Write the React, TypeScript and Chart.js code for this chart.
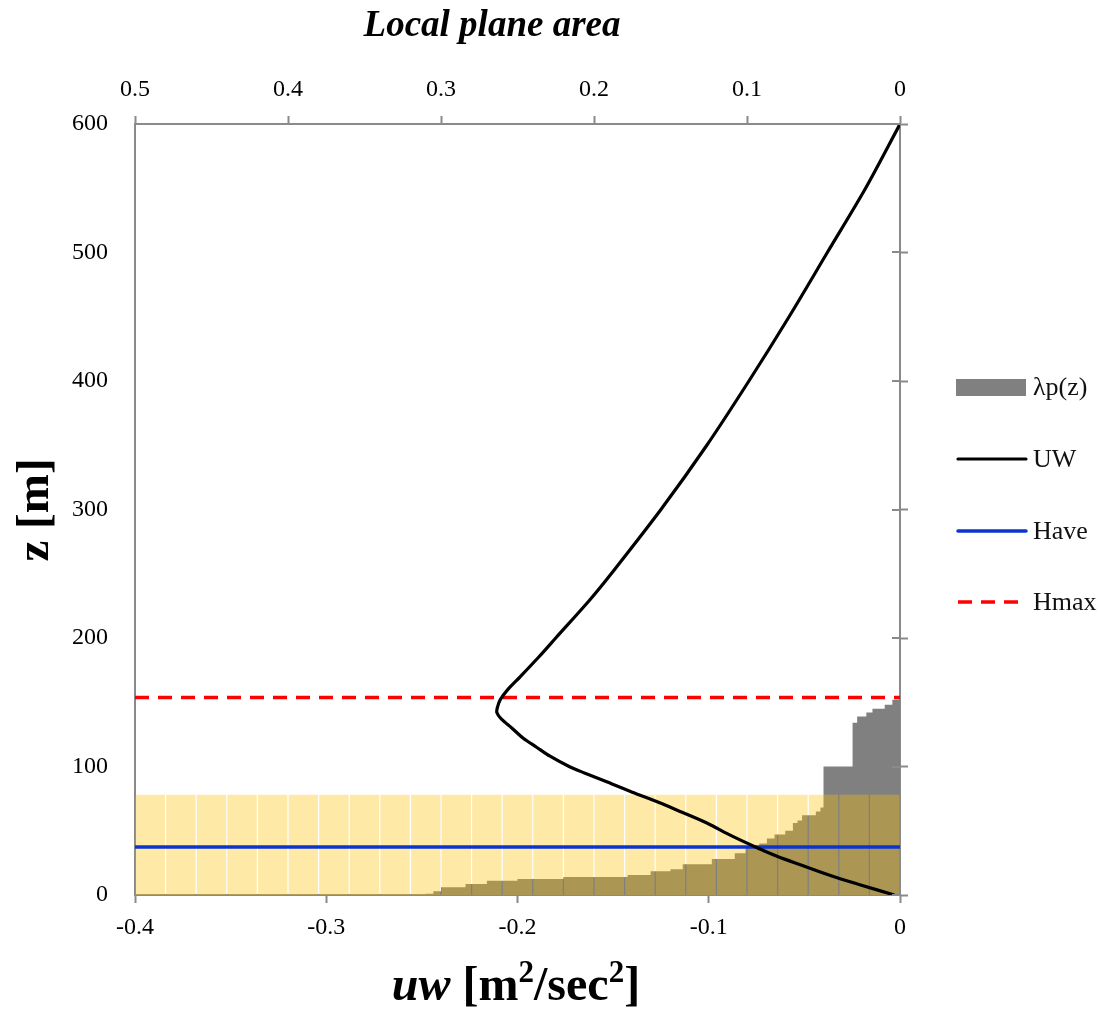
import React, { useEffect, useRef } from 'react';
import { Chart, registerables } from 'chart.js';

Chart.register(...registerables);

// Reynolds stress profile uw(z)
const uwHeights = [0, 8, 15, 23, 30, 37, 46, 56, 65, 72, 80, 88, 95, 100, 108, 115, 122, 130, 137, 142, 146, 152, 160, 170, 185, 200, 230, 250, 300, 350, 400, 450, 500, 550, 600];
const uwValues = [-0.003, -0.021, -0.036, -0.051, -0.064, -0.075, -0.088, -0.101, -0.115, -0.126, -0.14, -0.153, -0.165, -0.173, -0.183, -0.19, -0.197, -0.203, -0.2085, -0.2108, -0.2105, -0.209, -0.205, -0.1985, -0.189, -0.18, -0.162, -0.151, -0.125, -0.101, -0.079, -0.058, -0.038, -0.018, 0];

// Local plane area ratio λp(z): lower edge of each height band and its value
const lpHeights = [0, 1, 3, 6, 8.5, 11, 12.5, 14, 15.5, 18.5, 20, 24, 28, 32.5, 37, 40, 44, 47, 50, 56, 58, 62, 65, 68, 100, 134, 139, 142, 145, 148];
const lpValues = [0.31, 0.305, 0.3, 0.284, 0.27, 0.25, 0.22, 0.178, 0.163, 0.15, 0.142, 0.123, 0.108, 0.101, 0.092, 0.087, 0.082, 0.075, 0.07, 0.067, 0.064, 0.055, 0.052, 0.05, 0.031, 0.028, 0.022, 0.018, 0.01, 0.005];
const lpTop = 152;

// Reference heights
const haveHeight = 37.4;
const hmaxHeight = 153.6;

// Shaded canopy layer, drawn as a row of columns
const bandSlots = ['1', '2', '3', '4', '5', '6', '7', '8', '9', '10', '11', '12', '13', '14', '15', '16', '17', '18', '19', '20', '21', '22', '23', '24', '25'];
const bandValues = [78, 78, 78, 78, 78, 78, 78, 78, 78, 78, 78, 78, 78, 78, 78, 78, 78, 78, 78, 78, 78, 78, 78, 78, 78];

// Axis ticks
const uwTicks = [-0.4, -0.3, -0.2, -0.1, 0];
const areaTicks = [0.5, 0.4, 0.3, 0.2, 0.1, 0];
const zTicks = [0, 100, 200, 300, 400, 500, 600];

const FONT = '"Liberation Serif", "Times New Roman", Times, serif';
const AXIS_COLOR = '#8a8a8a';
const GREY = '#808080';
const BAND = 'rgba(255, 192, 0, 0.35)';
const BLUE = '#0a34cf';
const RED = '#ff0000';

const fmt = (v: number) => {
  const r = Math.round(v * 10) / 10;
  return r === 0 ? '0' : String(r);
};

const setTicks = (values: number[]) => (scale: any) => {
  scale.ticks = values.map((v) => ({ value: v }));
};

const buildPlaneOutline = () => {
  const pts: { x: number; y: number }[] = [{ x: 0, y: lpHeights[0] }];
  for (let i = 0; i < lpValues.length; i++) {
    const z0 = lpHeights[i];
    const z1 = i + 1 < lpHeights.length ? lpHeights[i + 1] : lpTop;
    pts.push({ x: lpValues[i], y: z0 }, { x: lpValues[i], y: z1 });
  }
  pts.push({ x: 0, y: lpTop });
  return pts;
};

type Part = { text: string; font: string; rise?: number };

const drawRich = (ctx: CanvasRenderingContext2D, parts: Part[], cx: number, baseline: number) => {
  let total = 0;
  parts.forEach((p) => {
    ctx.font = p.font;
    total += ctx.measureText(p.text).width;
  });
  let x = cx - total / 2;
  ctx.textAlign = 'left';
  ctx.textBaseline = 'alphabetic';
  parts.forEach((p) => {
    ctx.font = p.font;
    ctx.fillText(p.text, x, baseline + (p.rise || 0));
    x += ctx.measureText(p.text).width;
  });
};

const decorPlugin = {
  id: 'decor',
  afterDraw(chart: any) {
    const { ctx, chartArea, scales } = chart;
    ctx.save();

    // inner half of the right-axis tick marks
    const y2 = scales.y2;
    ctx.strokeStyle = AXIS_COLOR;
    ctx.lineWidth = 2;
    y2.ticks.forEach((t: any) => {
      const py = Math.round(y2.getPixelForValue(t.value));
      ctx.beginPath();
      ctx.moveTo(chartArea.right - 8, py);
      ctx.lineTo(chartArea.right, py);
      ctx.stroke();
    });

    ctx.fillStyle = '#000';

    // top title
    drawRich(ctx, [{ text: 'Local plane area', font: `italic bold 37px ${FONT}` }], 492, 36);

    // bottom title
    drawRich(
      ctx,
      [
        { text: 'uw', font: `italic bold 48px ${FONT}` },
        { text: ' [m', font: `bold 48px ${FONT}` },
        { text: '2', font: `bold 31px ${FONT}`, rise: -18 },
        { text: '/sec', font: `bold 48px ${FONT}` },
        { text: '2', font: `bold 31px ${FONT}`, rise: -18 },
        { text: ']', font: `bold 48px ${FONT}` },
      ],
      516,
      1000
    );

    // left title
    ctx.save();
    ctx.translate(48, 510);
    ctx.rotate(-Math.PI / 2);
    drawRich(ctx, [{ text: 'z [m]', font: `bold 47px ${FONT}` }], 0, 0);
    ctx.restore();

    // legend
    const lx = 956;
    const lw = 70;
    const tx = 1033;
    const rows = [387, 459, 531, 602];
    const ds = chart.data.datasets;
    const byLabel = (l: string) => ds.find((d: any) => d.label === l);
    const items = ['λp(z)', 'UW', 'Have', 'Hmax'];
    items.forEach((label, i) => {
      const d = byLabel(label);
      const cy = rows[i];
      if (d.legendKind === 'box') {
        ctx.fillStyle = d.backgroundColor;
        ctx.fillRect(lx, cy - 8, lw, 17);
      } else {
        ctx.strokeStyle = d.borderColor;
        ctx.lineWidth = d.borderWidth;
        ctx.lineCap = d.borderDash ? 'butt' : 'round';
        ctx.setLineDash(d.borderDash || []);
        ctx.beginPath();
        ctx.moveTo(lx + 2, cy);
        ctx.lineTo(lx + lw, cy);
        ctx.stroke();
        ctx.setLineDash([]);
      }
      ctx.fillStyle = '#111';
      ctx.font = `26px ${FONT}`;
      ctx.textAlign = 'left';
      ctx.textBaseline = 'middle';
      ctx.fillText(label, tx, cy + 1);
    });

    ctx.restore();
  },
};

export default function App() {
  const canvasRef = useRef<HTMLCanvasElement | null>(null);

  useEffect(() => {
    const canvas = canvasRef.current;
    if (!canvas) return;

    const tickFont = { family: FONT, size: 24 };

    const chart = new Chart(canvas, {
      type: 'line',
      data: {
        datasets: [
          {
            label: 'UW',
            type: 'line',
            data: uwHeights.map((z, i) => ({ x: uwValues[i], y: z })),
            xAxisID: 'x',
            yAxisID: 'y',
            borderColor: '#000',
            borderWidth: 3.2,
            tension: 0.3,
            pointRadius: 0,
            fill: false,
            order: 1,
          } as any,
          {
            label: 'Hmax',
            type: 'line',
            data: [
              { x: uwTicks[0], y: hmaxHeight },
              { x: uwTicks[uwTicks.length - 1], y: hmaxHeight },
            ],
            xAxisID: 'x',
            yAxisID: 'y',
            borderColor: RED,
            borderWidth: 3.5,
            borderDash: [14, 9],
            pointRadius: 0,
            fill: false,
            order: 2,
          } as any,
          {
            label: 'Have',
            type: 'line',
            data: [
              { x: uwTicks[0], y: haveHeight },
              { x: uwTicks[uwTicks.length - 1], y: haveHeight },
            ],
            xAxisID: 'x',
            yAxisID: 'y',
            borderColor: BLUE,
            borderWidth: 3.5,
            pointRadius: 0,
            fill: false,
            order: 3,
          } as any,
          {
            label: 'band',
            type: 'bar',
            data: bandValues,
            xAxisID: 'xc',
            yAxisID: 'y',
            backgroundColor: BAND,
            borderWidth: 0,
            grouped: false,
            barPercentage: 0.96,
            categoryPercentage: 1,
            order: 4,
          } as any,
          {
            label: 'λp(z)',
            type: 'line',
            data: buildPlaneOutline(),
            xAxisID: 'x2',
            yAxisID: 'y',
            borderColor: 'rgba(0,0,0,0)',
            borderWidth: 1,
            backgroundColor: GREY,
            pointRadius: 0,
            tension: 0,
            fill: 'shape',
            order: 5,
            legendKind: 'box',
          } as any,
        ],
      },
      options: {
        animation: false,
        responsive: false,
        maintainAspectRatio: false,
        events: [],
        layout: { padding: 0 },
        plugins: {
          legend: { display: false },
          tooltip: { enabled: false },
        },
        scales: {
          x: {
            type: 'linear',
            position: 'bottom',
            min: uwTicks[0],
            max: uwTicks[uwTicks.length - 1],
            afterBuildTicks: setTicks(uwTicks),
            afterFit: (s: any) => {
              s.height = 117;
            },
            ticks: { font: tickFont, color: '#000', padding: 10, callback: (v: any) => fmt(Number(v)), maxRotation: 0 },
            grid: { drawOnChartArea: false, drawTicks: true, tickLength: 8, tickColor: AXIS_COLOR, tickWidth: 2, color: AXIS_COLOR },
            border: { display: true, color: AXIS_COLOR, width: 2 },
          },
          x2: {
            type: 'linear',
            position: 'top',
            min: 0,
            max: areaTicks[0],
            reverse: true,
            afterBuildTicks: setTicks(areaTicks),
            afterFit: (s: any) => {
              s.height = 124;
            },
            ticks: { font: tickFont, color: '#000', padding: 12, callback: (v: any) => fmt(Number(v)), maxRotation: 0 },
            grid: { drawOnChartArea: false, drawTicks: true, tickLength: 8, tickColor: AXIS_COLOR, tickWidth: 2, color: AXIS_COLOR },
            border: { display: true, color: AXIS_COLOR, width: 2 },
          },
          xc: {
            type: 'category',
            labels: bandSlots,
            display: false,
            offset: true,
          },
          y: {
            type: 'linear',
            position: 'left',
            min: zTicks[0],
            max: zTicks[zTicks.length - 1],
            afterBuildTicks: setTicks(zTicks),
            afterFit: (s: any) => {
              s.width = 135;
            },
            ticks: { font: tickFont, color: '#000', padding: 27 },
            grid: { display: false, drawTicks: false },
            border: { display: true, color: AXIS_COLOR, width: 2 },
          },
          y2: {
            type: 'linear',
            position: 'right',
            min: zTicks[0],
            max: zTicks[zTicks.length - 1],
            afterBuildTicks: setTicks(zTicks),
            afterFit: (s: any) => {
              s.width = 199;
            },
            ticks: { display: false },
            grid: { drawOnChartArea: false, drawTicks: true, tickLength: 8, tickColor: AXIS_COLOR, tickWidth: 2, color: AXIS_COLOR },
            border: { display: true, color: AXIS_COLOR, width: 2 },
          },
        },
      } as any,
      plugins: [decorPlugin],
    });

    return () => {
      chart.destroy();
    };
  }, []);

  return (
    <div style={{ position: 'absolute', left: 0, top: 0, width: 1099, height: 1012, background: '#fff' }}>
      <canvas ref={canvasRef} width={1099} height={1012} style={{ display: 'block', width: 1099, height: 1012 }} />
    </div>
  );
}
